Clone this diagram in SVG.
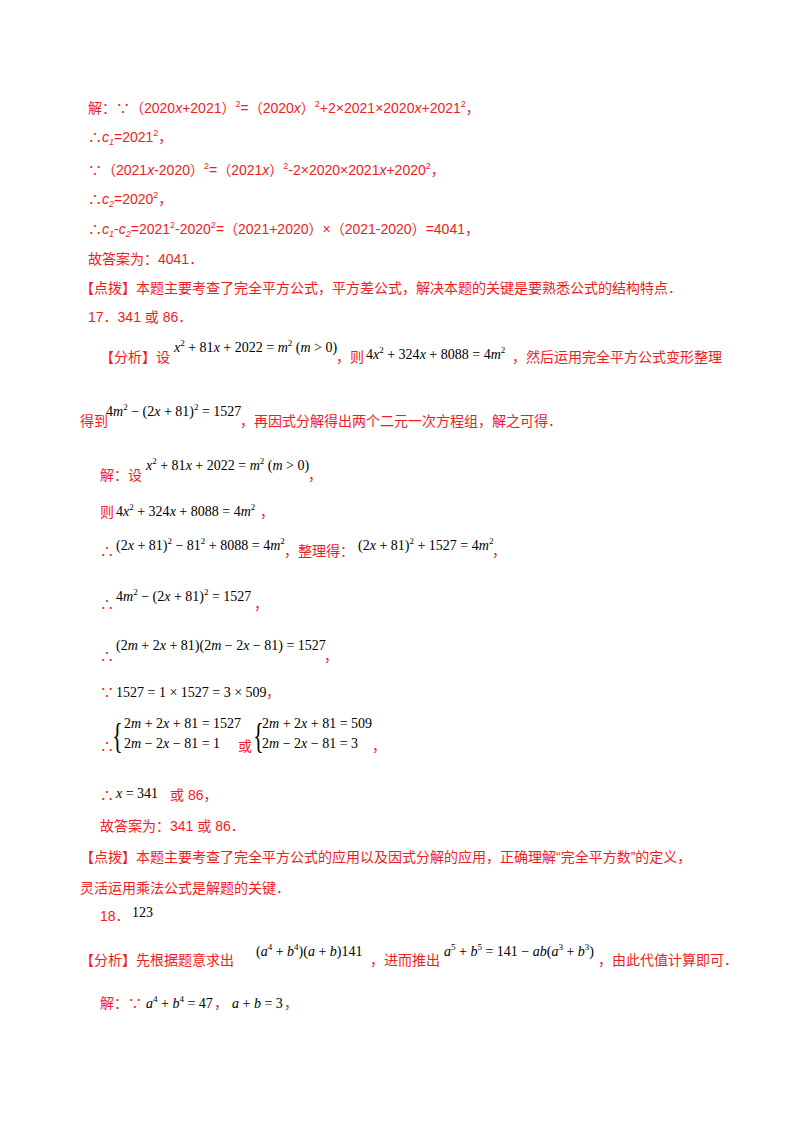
<svg xmlns="http://www.w3.org/2000/svg" width="800" height="1132" viewBox="0 0 800 1132">
<style>
.r{font-family:"Liberation Sans","Noto Sans CJK SC",sans-serif;font-size:14px;fill:#f01c24}
.m{font-family:"Liberation Serif",serif;font-size:14px;fill:#000}
.i{font-style:italic}
.s{font-size:9px}
</style>
<rect width="800" height="1132" fill="#fff"/>
<text class="r" x="88" y="113">解：∵（2020<tspan class="i">x</tspan>+2021）<tspan class="s" dy="-6">2</tspan><tspan dy="6">=（2020</tspan><tspan class="i">x</tspan>）<tspan class="s" dy="-6">2</tspan><tspan dy="6">+2×2021×2020</tspan><tspan class="i">x</tspan>+2021<tspan class="s" dy="-6">2</tspan><tspan dy="6">，</tspan></text>
<text class="r" x="88" y="142">∴<tspan class="i">c</tspan><tspan class="s i" dy="3">1</tspan><tspan dy="-3">=2021</tspan><tspan class="s" dy="-6">2</tspan><tspan dy="6">，</tspan></text>
<text class="r" x="88" y="175">∵（2021<tspan class="i">x</tspan>-2020）<tspan class="s" dy="-6">2</tspan><tspan dy="6">=（2021</tspan><tspan class="i">x</tspan>）<tspan class="s" dy="-6">2</tspan><tspan dy="6">-2×2020×2021</tspan><tspan class="i">x</tspan>+2020<tspan class="s" dy="-6">2</tspan><tspan dy="6">，</tspan></text>
<text class="r" x="88" y="204">∴<tspan class="i">c</tspan><tspan class="s i" dy="3">2</tspan><tspan dy="-3">=2020</tspan><tspan class="s" dy="-6">2</tspan><tspan dy="6">，</tspan></text>
<text class="r" x="88" y="234">∴<tspan class="i">c</tspan><tspan class="s i" dy="3">1</tspan><tspan dy="-3">-</tspan><tspan class="i">c</tspan><tspan class="s i" dy="3">2</tspan><tspan dy="-3">=2021</tspan><tspan class="s" dy="-6">2</tspan><tspan dy="6">-2020</tspan><tspan class="s" dy="-6">2</tspan><tspan dy="6">=（2021+2020）×（2021-2020）=4041，</tspan></text>
<text class="r" x="88" y="264">故答案为：4041．</text>
<text class="r" x="80" y="293">【点拨】本题主要考查了完全平方公式，平方差公式，解决本题的关键是要熟悉公式的结构特点．</text>
<text class="r" x="88" y="322">17．341 或 86．</text>
<text class="r" x="100" y="362">【分析】设</text>
<text class="m" x="174" y="352"><tspan class="i">x</tspan><tspan class="s" dy="-6">2</tspan><tspan dy="6"> + 81</tspan><tspan class="i">x</tspan> + 2022 = <tspan class="i">m</tspan><tspan class="s" dy="-6">2</tspan><tspan dy="6"> (</tspan><tspan class="i">m</tspan> &gt; 0)</text>
<text class="r" x="336" y="362">，则</text>
<text class="m" x="366" y="359">4<tspan class="i">x</tspan><tspan class="s" dy="-6">2</tspan><tspan dy="6"> + 324</tspan><tspan class="i">x</tspan> + 8088 = 4<tspan class="i">m</tspan><tspan class="s" dy="-6">2</tspan></text>
<text class="r" x="512" y="362">，然后运用完全平方公式变形整理</text>
<text class="r" x="80" y="426">得到</text>
<text class="m" x="106" y="416">4<tspan class="i">m</tspan><tspan class="s" dy="-6">2</tspan><tspan dy="6"> − (2</tspan><tspan class="i">x</tspan> + 81)<tspan class="s" dy="-6">2</tspan><tspan dy="6"> = 1527</tspan></text>
<text class="r" x="240" y="426">，再因式分解得出两个二元一次方程组，解之可得．</text>
<text class="r" x="100" y="480">解：设</text>
<text class="m" x="146" y="470"><tspan class="i">x</tspan><tspan class="s" dy="-6">2</tspan><tspan dy="6"> + 81</tspan><tspan class="i">x</tspan> + 2022 = <tspan class="i">m</tspan><tspan class="s" dy="-6">2</tspan><tspan dy="6"> (</tspan><tspan class="i">m</tspan> &gt; 0)</text>
<text class="r" x="308" y="480">，</text>
<text class="r" x="100" y="517">则</text>
<text class="m" x="116" y="516">4<tspan class="i">x</tspan><tspan class="s" dy="-6">2</tspan><tspan dy="6"> + 324</tspan><tspan class="i">x</tspan> + 8088 = 4<tspan class="i">m</tspan><tspan class="s" dy="-6">2</tspan></text>
<text class="r" x="260" y="517">，</text>
<text class="r" x="100" y="556">∴</text>
<text class="m" x="116" y="550">(2<tspan class="i">x</tspan> + 81)<tspan class="s" dy="-6">2</tspan><tspan dy="6"> − 81</tspan><tspan class="s" dy="-6">2</tspan><tspan dy="6"> + 8088 = 4</tspan><tspan class="i">m</tspan><tspan class="s" dy="-6">2</tspan></text>
<text class="r" x="284" y="556">，整理得：</text>
<text class="m" x="358" y="550">(2<tspan class="i">x</tspan> + 81)<tspan class="s" dy="-6">2</tspan><tspan dy="6"> + 1527 = 4</tspan><tspan class="i">m</tspan><tspan class="s" dy="-6">2</tspan></text>
<text class="r" x="492" y="556">，</text>
<text class="r" x="100" y="609">∴</text>
<text class="m" x="116" y="601">4<tspan class="i">m</tspan><tspan class="s" dy="-6">2</tspan><tspan dy="6"> − (2</tspan><tspan class="i">x</tspan> + 81)<tspan class="s" dy="-6">2</tspan><tspan dy="6"> = 1527</tspan></text>
<text class="r" x="254" y="609">，</text>
<text class="r" x="100" y="661">∴</text>
<text class="m" x="116" y="650">(2<tspan class="i">m</tspan> + 2<tspan class="i">x</tspan> + 81)(2<tspan class="i">m</tspan> − 2<tspan class="i">x</tspan> − 81) = 1527</text>
<text class="r" x="324" y="661">，</text>
<text class="r" x="100" y="697">∵</text>
<text class="m" x="116" y="697">1527 = 1 × 1527 = 3 × 509</text>
<text class="r" x="266" y="697">，</text>
<text class="r" x="100" y="751">∴</text>
<text class="m" x="187" y="748" transform="scale(0.6 1)" style="font-size:36px">{</text>
<text class="m" x="124" y="728">2<tspan class="i">m</tspan> + 2<tspan class="i">x</tspan> + 81 = 1527</text>
<text class="m" x="124" y="748">2<tspan class="i">m</tspan> − 2<tspan class="i">x</tspan> − 81 = 1</text>
<text class="r" x="238" y="751">或</text>
<text class="m" x="422" y="748" transform="scale(0.6 1)" style="font-size:36px">{</text>
<text class="m" x="262" y="728">2<tspan class="i">m</tspan> + 2<tspan class="i">x</tspan> + 81 = 509</text>
<text class="m" x="262" y="748">2<tspan class="i">m</tspan> − 2<tspan class="i">x</tspan> − 81 = 3</text>
<text class="r" x="372" y="751">，</text>
<text class="r" x="100" y="800">∴</text>
<text class="m" x="116" y="798"><tspan class="i">x</tspan> = 341</text>
<text class="r" x="170" y="800">或 86，</text>
<text class="r" x="100" y="831">故答案为：341 或 86．</text>
<text class="r" x="80" y="862">【点拨】本题主要考查了完全平方公式的应用以及因式分解的应用，正确理解“完全平方数”的定义，</text>
<text class="r" x="80" y="893">灵活运用乘法公式是解题的关键．</text>
<text class="r" x="100" y="921">18．</text>
<text class="m" x="132" y="917">123</text>
<text class="r" x="80" y="965">【分析】先根据题意求出</text>
<text class="m" x="256" y="956">(<tspan class="i">a</tspan><tspan class="s" dy="-6">4</tspan><tspan dy="6"> + </tspan><tspan class="i">b</tspan><tspan class="s" dy="-6">4</tspan><tspan dy="6">)(</tspan><tspan class="i">a</tspan> + <tspan class="i">b</tspan>)141</text>
<text class="r" x="370" y="965">，进而推出</text>
<text class="m" x="444" y="956"><tspan class="i">a</tspan><tspan class="s" dy="-6">5</tspan><tspan dy="6"> + </tspan><tspan class="i">b</tspan><tspan class="s" dy="-6">5</tspan><tspan dy="6"> = 141 − </tspan><tspan class="i">ab</tspan>(<tspan class="i">a</tspan><tspan class="s" dy="-6">3</tspan><tspan dy="6"> + </tspan><tspan class="i">b</tspan><tspan class="s" dy="-6">3</tspan><tspan dy="6">)</tspan></text>
<text class="r" x="598" y="965">，由此代值计算即可．</text>
<text class="r" x="100" y="1008">解：∵</text>
<text class="m" x="146" y="1008"><tspan class="i">a</tspan><tspan class="s" dy="-6">4</tspan><tspan dy="6"> + </tspan><tspan class="i">b</tspan><tspan class="s" dy="-6">4</tspan><tspan dy="6"> = 47</tspan></text>
<text class="r" x="214" y="1008">，</text>
<text class="m" x="232" y="1008"><tspan class="i">a</tspan> + <tspan class="i">b</tspan> = 3</text>
<text class="r" x="284" y="1008">，</text>
</svg>
